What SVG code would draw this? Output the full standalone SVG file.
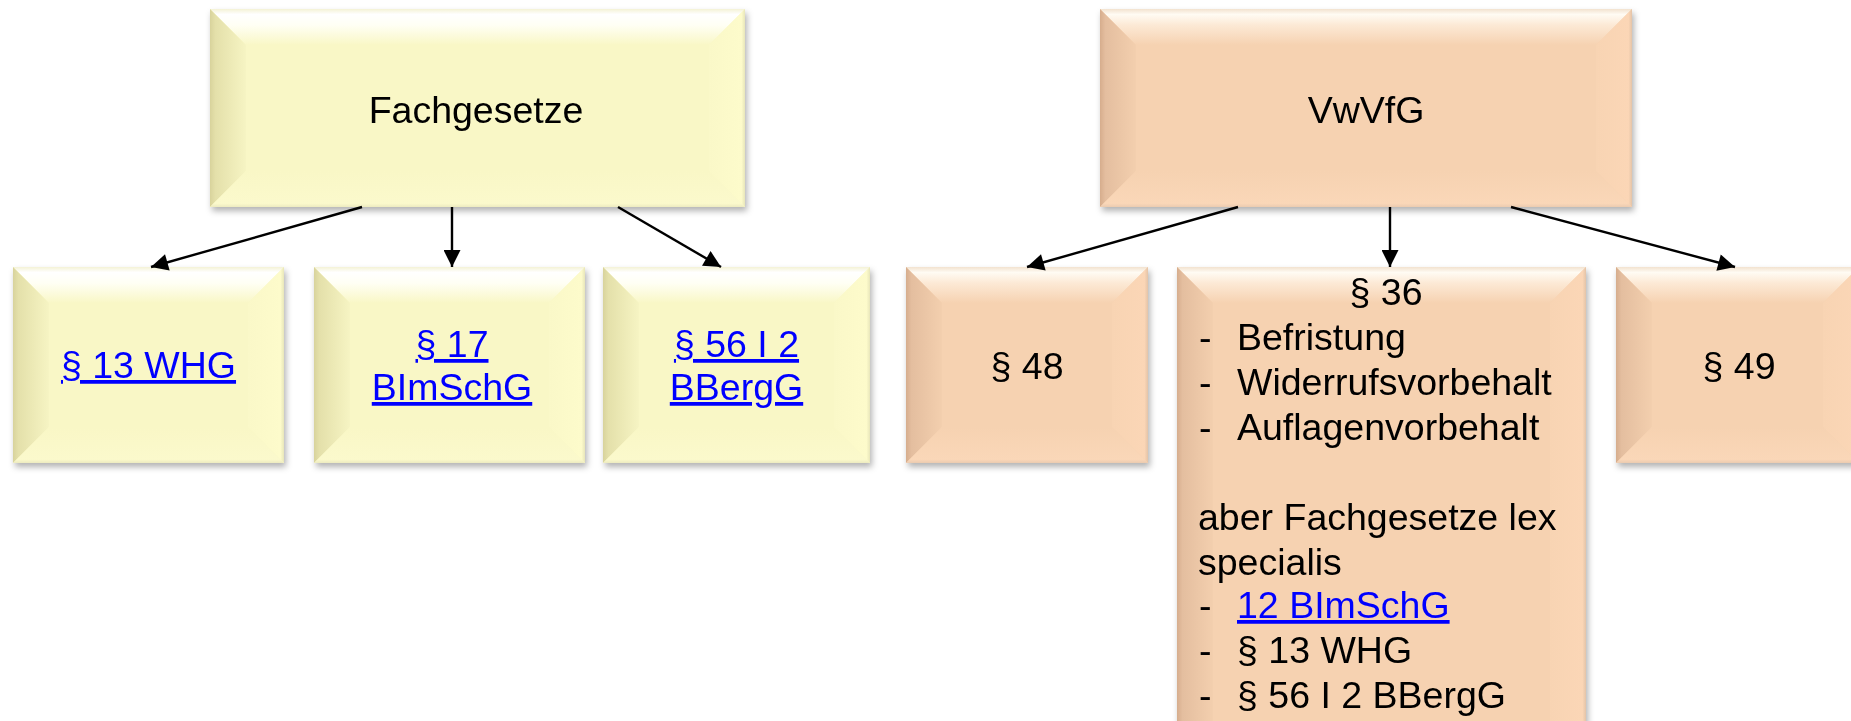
<svg xmlns="http://www.w3.org/2000/svg" width="1851" height="721" viewBox="0 0 1851 721">
<style>
.t{font-family:"Liberation Sans",Arial,sans-serif;font-size:37.5px;fill:#000}
.c{text-anchor:middle}
.l{fill:#0000FF;text-decoration:underline}
.yb{fill:#F9F7C6}
.pb{fill:#F6D2B1}
.conn{stroke:#000;stroke-width:2.4;fill:none;marker-end:url(#ah)}
</style>
<defs>
<marker id="ah" viewBox="0 0 10 10" refX="10" refY="5" markerUnits="userSpaceOnUse" markerWidth="20" markerHeight="17" orient="auto">
<path d="M0,0 L10,5 L0,10 z" fill="#000"/>
</marker>
<filter id="sh" x="-10%" y="-10%" width="125%" height="130%">
<feDropShadow dx="2" dy="4" stdDeviation="3" flood-color="#000" flood-opacity="0.3"/>
</filter>
<linearGradient id="ytop" x1="0" y1="0" x2="0" y2="1">
<stop offset="0" stop-color="#F4F2D6"/><stop offset="0.15" stop-color="#FFFFFF"/><stop offset="0.45" stop-color="#FFFFF4"/><stop offset="1" stop-color="#F9F7C6"/>
</linearGradient>
<linearGradient id="yleft" x1="0" y1="0" x2="1" y2="0">
<stop offset="0" stop-color="#D8D39C"/><stop offset="0.15" stop-color="#E4E0AA"/><stop offset="1" stop-color="#F6F4C3"/>
</linearGradient>
<linearGradient id="yright" x1="0" y1="0" x2="1" y2="0">
<stop offset="0" stop-color="#FAF8C8"/><stop offset="0.9" stop-color="#FDFBCB"/><stop offset="1" stop-color="#E8E6BA"/>
</linearGradient>
<linearGradient id="ybot" x1="0" y1="0" x2="0" y2="1">
<stop offset="0" stop-color="#F9F7C6"/><stop offset="0.9" stop-color="#FBF9CC"/><stop offset="1" stop-color="#EDEBC0"/>
</linearGradient>
<linearGradient id="ptop" x1="0" y1="0" x2="0" y2="1">
<stop offset="0" stop-color="#F2E2CF"/><stop offset="0.15" stop-color="#FFFBF3"/><stop offset="0.45" stop-color="#FCE9D5"/><stop offset="1" stop-color="#F6D2B1"/>
</linearGradient>
<linearGradient id="pleft" x1="0" y1="0" x2="1" y2="0">
<stop offset="0" stop-color="#D6AD8D"/><stop offset="0.15" stop-color="#E4BE9F"/><stop offset="1" stop-color="#F3CFAE"/>
</linearGradient>
<linearGradient id="pright" x1="0" y1="0" x2="1" y2="0">
<stop offset="0" stop-color="#F8D4B3"/><stop offset="0.9" stop-color="#FBD6B6"/><stop offset="1" stop-color="#E4C4A8"/>
</linearGradient>
<linearGradient id="pbot" x1="0" y1="0" x2="0" y2="1">
<stop offset="0" stop-color="#F6D2B1"/><stop offset="0.9" stop-color="#FAD7B8"/><stop offset="1" stop-color="#EBCBB0"/>
</linearGradient>
</defs>
<rect width="1851" height="721" fill="#FFFFFF"/>

<g id="n-fachgesetze" filter="url(#sh)">
<rect class="yb" x="210" y="9" width="535" height="198"/>
<polygon points="210,9 745,9 709,45 246,45" fill="url(#ytop)"/>
<polygon points="210,9 246,45 246,171 210,207" fill="url(#yleft)"/>
<polygon points="745,9 745,207 709,171 709,45" fill="url(#yright)"/>
<polygon points="210,207 246,171 709,171 745,207" fill="url(#ybot)"/>
<text class="t c" x="476" y="123">Fachgesetze</text>
</g>

<g id="n-vwvfg" filter="url(#sh)">
<rect class="pb" x="1100" y="9" width="532" height="198"/>
<polygon points="1100,9 1632,9 1596,45 1136,45" fill="url(#ptop)"/>
<polygon points="1100,9 1136,45 1136,171 1100,207" fill="url(#pleft)"/>
<polygon points="1632,9 1632,207 1596,171 1596,45" fill="url(#pright)"/>
<polygon points="1100,207 1136,171 1596,171 1632,207" fill="url(#pbot)"/>
<text class="t c" x="1366" y="123">VwVfG</text>
</g>

<g id="n-whg" filter="url(#sh)">
<rect class="yb" x="13" y="267" width="271" height="196"/>
<polygon points="13,267 284,267 248,303 49,303" fill="url(#ytop)"/>
<polygon points="13,267 49,303 49,427 13,463" fill="url(#yleft)"/>
<polygon points="284,267 284,463 248,427 248,303" fill="url(#yright)"/>
<polygon points="13,463 49,427 248,427 284,463" fill="url(#ybot)"/>
<text class="t c l" x="148.5" y="378">§ 13 WHG</text>
</g>

<g id="n-bimschg" filter="url(#sh)">
<rect class="yb" x="314" y="267" width="271" height="196"/>
<polygon points="314,267 585,267 549,303 350,303" fill="url(#ytop)"/>
<polygon points="314,267 350,303 350,427 314,463" fill="url(#yleft)"/>
<polygon points="585,267 585,463 549,427 549,303" fill="url(#yright)"/>
<polygon points="314,463 350,427 549,427 585,463" fill="url(#ybot)"/>
<text class="t c l" x="452" y="357">§ 17</text>
<text class="t c l" x="452" y="400">BImSchG</text>
</g>

<g id="n-bbergg" filter="url(#sh)">
<rect class="yb" x="603" y="267" width="267" height="196"/>
<polygon points="603,267 870,267 834,303 639,303" fill="url(#ytop)"/>
<polygon points="603,267 639,303 639,427 603,463" fill="url(#yleft)"/>
<polygon points="870,267 870,463 834,427 834,303" fill="url(#yright)"/>
<polygon points="603,463 639,427 834,427 870,463" fill="url(#ybot)"/>
<text class="t c l" x="736.5" y="357">§ 56 I 2</text>
<text class="t c l" x="736.5" y="400">BBergG</text>
</g>

<g id="n-48" filter="url(#sh)">
<rect class="pb" x="906" y="267" width="242" height="196"/>
<polygon points="906,267 1148,267 1112,303 942,303" fill="url(#ptop)"/>
<polygon points="906,267 942,303 942,427 906,463" fill="url(#pleft)"/>
<polygon points="1148,267 1148,463 1112,427 1112,303" fill="url(#pright)"/>
<polygon points="906,463 942,427 1112,427 1148,463" fill="url(#pbot)"/>
<text class="t c" x="1027" y="379">§ 48</text>
</g>

<g id="n-36" filter="url(#sh)">
<rect class="pb" x="1177" y="267" width="409" height="500"/>
<polygon points="1177,267 1586,267 1550,303 1213,303" fill="url(#ptop)"/>
<polygon points="1177,267 1213,303 1213,767 1177,767" fill="url(#pleft)"/>
<polygon points="1586,267 1586,767 1550,767 1550,303" fill="url(#pright)"/>
<text class="t c" x="1386" y="305">§ 36</text>
<text class="t" x="1199" y="350">-</text><text class="t" x="1237" y="350">Befristung</text>
<text class="t" x="1199" y="395">-</text><text class="t" x="1237" y="395">Widerrufsvorbehalt</text>
<text class="t" x="1199" y="440">-</text><text class="t" x="1237" y="440">Auflagenvorbehalt</text>
<text class="t" x="1198" y="530">aber Fachgesetze lex</text>
<text class="t" x="1198" y="575">specialis</text>
<text class="t" x="1199" y="618">-</text><text class="t l" x="1237" y="618">12 BImSchG</text>
<text class="t" x="1199" y="663">-</text><text class="t" x="1237" y="663">§ 13 WHG</text>
<text class="t" x="1199" y="708">-</text><text class="t" x="1237" y="708">§ 56 I 2 BBergG</text>
</g>

<g id="n-49" filter="url(#sh)">
<rect class="pb" x="1616" y="267" width="243" height="196"/>
<polygon points="1616,267 1859,267 1823,303 1652,303" fill="url(#ptop)"/>
<polygon points="1616,267 1652,303 1652,427 1616,463" fill="url(#pleft)"/>
<polygon points="1859,267 1859,463 1823,427 1823,303" fill="url(#pright)"/>
<polygon points="1616,463 1652,427 1823,427 1859,463" fill="url(#pbot)"/>
<text class="t c" x="1739" y="379">§ 49</text>
</g>

<g id="connectors">
<line class="conn" x1="362" y1="207" x2="151" y2="267"/>
<line class="conn" x1="452" y1="207" x2="452" y2="267"/>
<line class="conn" x1="618" y1="207" x2="721" y2="267"/>
<line class="conn" x1="1238" y1="207" x2="1027" y2="267"/>
<line class="conn" x1="1390" y1="207" x2="1390" y2="267"/>
<line class="conn" x1="1511" y1="207" x2="1735" y2="267"/>
</g>
</svg>
